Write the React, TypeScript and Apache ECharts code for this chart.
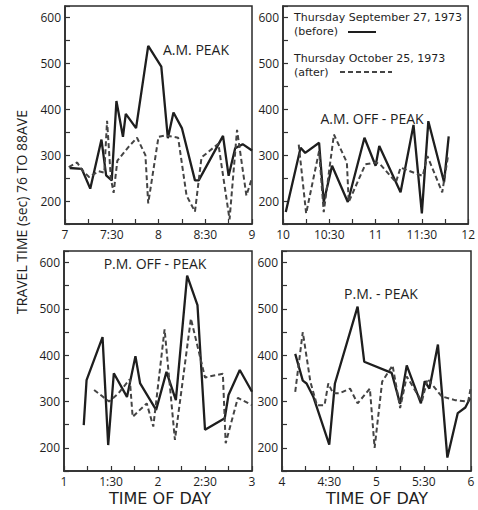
import React, { useEffect, useRef } from "react";
import * as echarts from "echarts";

// A.M. PEAK (7-9)
const amPeakBefore: [number, number][] = [
  [7.05, 272], [7.18, 270], [7.27, 227], [7.39, 334], [7.44, 256], [7.5, 245],
  [7.55, 418], [7.62, 340], [7.65, 390], [7.76, 359], [7.89, 538], [8.03, 493],
  [8.1, 337], [8.16, 393], [8.25, 359], [8.39, 245], [8.43, 245], [8.69, 342],
  [8.75, 255], [8.82, 315], [8.9, 324], [9.0, 310],
];
const amPeakAfter: [number, number][] = [
  [7.04, 274], [7.13, 284], [7.18, 268], [7.26, 252], [7.36, 265], [7.42, 262],
  [7.45, 375], [7.49, 250], [7.52, 218], [7.56, 288], [7.68, 318], [7.77, 338],
  [7.86, 300], [7.89, 195], [8.0, 340], [8.07, 343], [8.21, 338], [8.3, 212],
  [8.39, 177], [8.46, 295], [8.64, 325], [8.76, 160], [8.84, 355], [8.94, 212],
  [9.0, 250],
];

// A.M. OFF-PEAK (10-12)
const amOffBefore: [number, number][] = [
  [10.03, 176], [10.19, 316], [10.24, 305], [10.39, 327], [10.44, 198],
  [10.53, 277], [10.7, 198], [10.88, 338], [11.0, 277], [11.04, 320],
  [11.27, 219], [11.41, 366], [11.5, 173], [11.57, 374], [11.74, 241],
  [11.79, 341],
];
const amOffAfter: [number, number][] = [
  [10.17, 323], [10.25, 173], [10.39, 309], [10.44, 176], [10.55, 345],
  [10.69, 284], [10.71, 198], [10.89, 280], [11.0, 284], [11.05, 280],
  [11.22, 241], [11.27, 273], [11.45, 259], [11.51, 255], [11.56, 298],
  [11.72, 219], [11.78, 295],
];

// P.M. OFF-PEAK (1-3)
const pmOffBefore: [number, number][] = [
  [1.21, 249], [1.24, 346], [1.41, 439], [1.47, 206], [1.53, 361], [1.67, 310],
  [1.76, 398], [1.81, 339], [1.98, 282], [2.09, 364], [2.19, 303], [2.31, 572],
  [2.42, 508], [2.5, 239], [2.71, 264], [2.75, 314], [2.87, 368], [3.0, 321],
];
const pmOffAfter: [number, number][] = [
  [1.32, 325], [1.48, 300], [1.58, 318], [1.7, 348], [1.73, 267], [1.88, 296],
  [1.95, 246], [2.07, 456], [2.18, 217], [2.35, 479], [2.5, 352], [2.69, 360],
  [2.72, 210], [2.85, 308], [3.0, 292],
];

// P.M. PEAK (4-6)
const pmPeakBefore: [number, number][] = [
  [4.14, 403], [4.22, 345], [4.26, 339], [4.33, 311], [4.5, 207], [4.56, 339],
  [4.8, 505], [4.87, 386], [5.16, 362], [5.25, 295], [5.32, 378], [5.47, 296],
  [5.51, 344], [5.56, 328], [5.65, 423], [5.75, 179], [5.86, 275], [5.94, 287],
  [5.99, 307],
];
const pmPeakAfter: [number, number][] = [
  [4.14, 321], [4.22, 450], [4.3, 343], [4.37, 292], [4.45, 292], [4.49, 339],
  [4.54, 318], [4.61, 318], [4.72, 328], [4.8, 296], [4.93, 328], [4.98, 200],
  [5.06, 343], [5.17, 378], [5.25, 286], [5.32, 354], [5.48, 300], [5.54, 349],
  [5.69, 311], [5.83, 303], [5.97, 300], [6.0, 333],
];

const panelTitles = ["A.M. PEAK", "A.M. OFF - PEAK", "P.M. OFF - PEAK", "P.M. - PEAK"];
const hourRanges: [number, number][] = [[7, 9], [10, 12], [1, 3], [4, 6]];
const legendBefore = ["Thursday September 27, 1973", "(before)"];
const legendAfter = ["Thursday October 25, 1973", "(after)"];
const yTitle = "TRAVEL TIME (sec) 76 TO 88AVE";
const xTitle = "TIME OF DAY";

const FONT = "'Open Sans', 'DejaVu Sans', sans-serif";
const WIDE = "'DejaVu Sans', sans-serif";
const INK = "#1e1e1e";

const timeLabel = (v: number) => {
  const h = Math.floor(v + 1e-9);
  const m = Math.round((v - h) * 60);
  if (m === 0) return String(h);
  if (m === 30) return `${h}:30`;
  return "";
};
const valueLabel = (v: number) =>
  v % 100 === 0 && v >= 200 && v <= 600 ? String(v) : "";

export default function App() {
  const ref = useRef<HTMLDivElement>(null);
  useEffect(() => {
    if (!ref.current) return;
    const chart = echarts.init(ref.current, undefined, { renderer: "svg" });
    const grids = [
      { left: 65, top: 6, width: 187, height: 218 },
      { left: 283, top: 6, width: 188, height: 218 },
      { left: 64, top: 251, width: 188, height: 220 },
      { left: 282, top: 251, width: 189, height: 220 },
    ];
    const data = [
      [amPeakBefore, amPeakAfter],
      [amOffBefore, amOffAfter],
      [pmOffBefore, pmOffAfter],
      [pmPeakBefore, pmPeakAfter],
    ];
    const titlePos = [
      [196, 49],
      [372, 118],
      [155, 263],
      [381, 293],
    ];
    const series: any[] = [];
    data.forEach((pair, i) => {
      series.push({
        type: "line",
        name: "before",
        xAxisIndex: i,
        yAxisIndex: i,
        data: pair[0],
        symbol: "none",
        lineStyle: { color: INK, width: 2.3, type: "solid" },
      });
      series.push({
        type: "line",
        name: "after",
        xAxisIndex: i,
        yAxisIndex: i,
        data: pair[1],
        symbol: "none",
        lineStyle: { color: "#444", width: 2, type: [5, 3] },
      });
    });
    const graphic: any[] = [];
    panelTitles.forEach((t, i) => {
      graphic.push({
        type: "text",
        x: titlePos[i][0],
        y: titlePos[i][1],
        style: {
          text: t,
          fill: INK,
          font: `500 14px ${FONT}`,
          textAlign: "center",
          textVerticalAlign: "middle",
        },
      });
    });
    graphic.push({
      type: "text",
      x: 21,
      y: 212,
      rotation: Math.PI / 2,
      style: {
        text: yTitle,
        fill: INK,
        font: `14px ${FONT}`,
        textAlign: "center",
        textVerticalAlign: "middle",
      },
    });
    [160, 377].forEach((cx) => {
      graphic.push({
        type: "text",
        x: cx,
        y: 498,
        style: {
          text: xTitle,
          fill: INK,
          font: `16px ${WIDE}`,
          textAlign: "center",
          textVerticalAlign: "middle",
        },
      });
    });
    const legStyle = (text: string) => ({
      text,
      fill: INK,
      font: `11px ${WIDE}`,
      lineHeight: 11,
      textAlign: "left",
      textVerticalAlign: "middle",
    });
    graphic.push({ type: "text", x: 294, y: 17, style: legStyle(legendBefore[0]) });
    graphic.push({ type: "text", x: 294, y: 31, style: legStyle(legendBefore[1]) });
    graphic.push({
      type: "line",
      shape: { x1: 348, y1: 32, x2: 376, y2: 32 },
      style: { stroke: INK, lineWidth: 2 },
    });
    graphic.push({ type: "text", x: 294, y: 58, style: legStyle(legendAfter[0]) });
    graphic.push({ type: "text", x: 294, y: 72, style: legStyle(legendAfter[1]) });
    graphic.push({
      type: "line",
      shape: { x1: 340, y1: 72, x2: 392, y2: 72 },
      style: { stroke: "#444", lineWidth: 2, lineDash: [5, 3] },
    });

    chart.setOption({
      animation: false,
      backgroundColor: "#fff",
      grid: grids.map((g) => ({
        ...g,
        show: true,
        borderColor: "#2a2a2a",
        borderWidth: 1.5,
        backgroundColor: "transparent",
      })),
      xAxis: hourRanges.map((r, i) => ({
        type: "value",
        gridIndex: i,
        min: r[0],
        max: r[1],
        interval: 0.25,
        axisLine: { show: true, lineStyle: { color: "#2a2a2a", width: 1.5 } },
        axisTick: { show: true, inside: true, length: 5, lineStyle: { color: "#333", width: 1.2 } },
        axisLabel: {
          formatter: timeLabel,
          fontFamily: FONT,
          fontSize: 12,
          color: INK,
          margin: 4,
        },
        splitLine: { show: false },
      })),
      yAxis: hourRanges.map((_, i) => ({
        type: "value",
        gridIndex: i,
        min: 150,
        max: 625,
        interval: 50,
        axisLine: { show: true, lineStyle: { color: "#2a2a2a", width: 1.5 } },
        axisTick: { show: true, inside: true, length: 5, lineStyle: { color: "#333", width: 1.2 } },
        axisLabel: {
          formatter: valueLabel,
          fontFamily: FONT,
          fontSize: 12,
          color: INK,
          margin: 4,
        },
        splitLine: { show: false },
      })),
      series,
      graphic,
    });
    return () => chart.dispose();
  }, []);
  return (
    <div
      ref={ref}
      style={{ position: "fixed", left: 0, top: 0, width: 478, height: 510, background: "#fff" }}
    />
  );
}
